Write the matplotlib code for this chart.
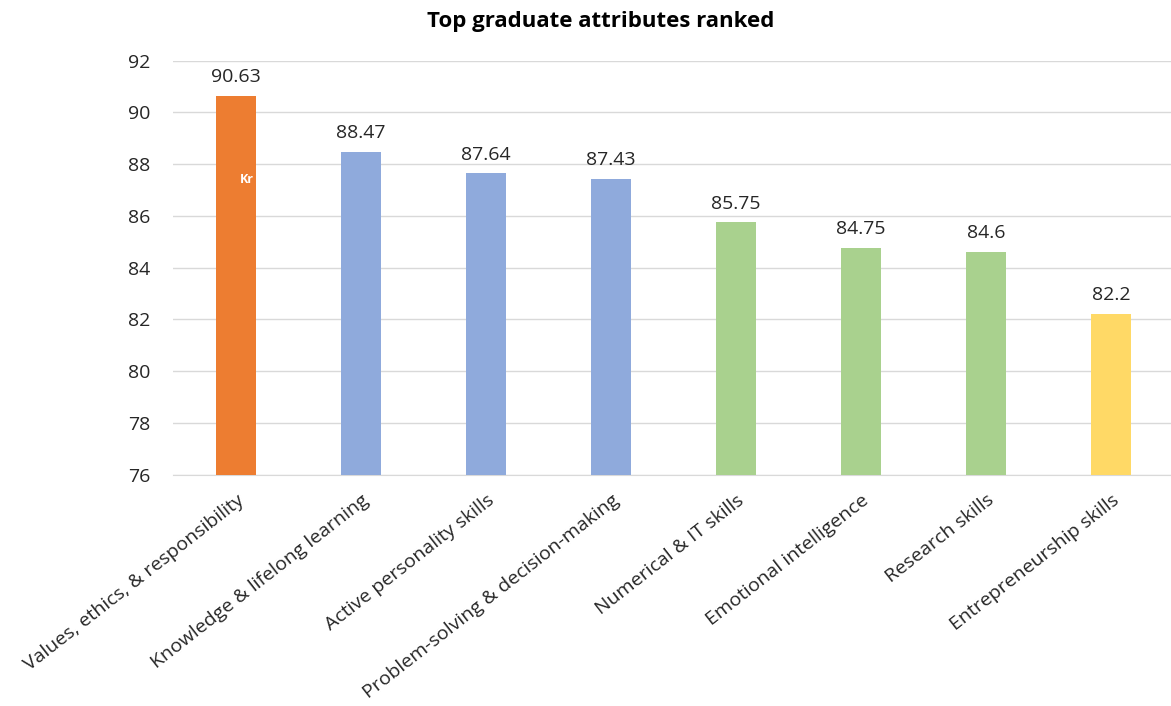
import matplotlib
matplotlib.use('Agg')
import matplotlib.pyplot as plt
import numpy as np

plt.rcParams['font.family'] = ['Open Sans', 'DejaVu Sans']

# data
attributes = ['Values, ethics, & responsibility', 'Knowledge & lifelong learning',
              'Active personality skills', 'Problem-solving & decision-making',
              'Numerical & IT skills', 'Emotional intelligence',
              'Research skills', 'Entrepreneurship skills']
scores = [90.63, 88.47, 87.64, 87.43, 85.75, 84.75, 84.6, 82.2]
score_labels = ['90.63', '88.47', '87.64', '87.43', '85.75', '84.75', '84.6', '82.2']
bar_colors = ['#ED7D31', '#8FAADC', '#8FAADC', '#8FAADC',
              '#A9D18E', '#A9D18E', '#A9D18E', '#FFD966']
y_ticks = [76, 78, 80, 82, 84, 86, 88, 90, 92]

fig = plt.figure(figsize=(11.71, 7.06), dpi=100)
ax = fig.add_axes([0.1477, 0.3279, 0.8523, 0.5861])

x = np.arange(len(attributes))
bars = ax.bar(x, [s - 76 for s in scores], bottom=76, width=0.32,
              color=bar_colors, zorder=3)

# value labels above each bar
for xi, s, lab in zip(x, scores, score_labels):
    ax.annotate(lab, (xi, s), xytext=(0, 7), textcoords='offset points',
                ha='center', va='bottom', fontsize=14, color='#262626')

# stray white text seen on the first bar
ax.text(x[0] + 0.03, 87.4, 'Kr', color='white', fontsize=9,
        fontweight='bold', ha='left', va='center', zorder=4)

ax.set_ylim(76, 92)
ax.set_xlim(-0.506, 7.478)
ax.set_yticks(y_ticks)
ax.set_yticklabels([str(t) for t in y_ticks], fontsize=14, color='#262626')
ax.set_xticks(x)
ax.set_xticklabels(attributes, rotation=38, ha='right', rotation_mode='anchor',
                   fontsize=14, color='#262626')
ax.tick_params(axis='both', length=0)
ax.tick_params(axis='y', pad=16)
ax.tick_params(axis='x', pad=12)

ax.grid(axis='y', color='#D9D9D9', linewidth=1, zorder=0)
for sp in ['top', 'right', 'left']:
    ax.spines[sp].set_visible(False)
ax.spines['bottom'].set_color('#D9D9D9')

fig.text(0.513, 0.97, 'Top graduate attributes ranked', ha='center', va='center',
         fontsize=16, fontweight='bold', color='black')

fig.savefig('out.png', dpi=100)
